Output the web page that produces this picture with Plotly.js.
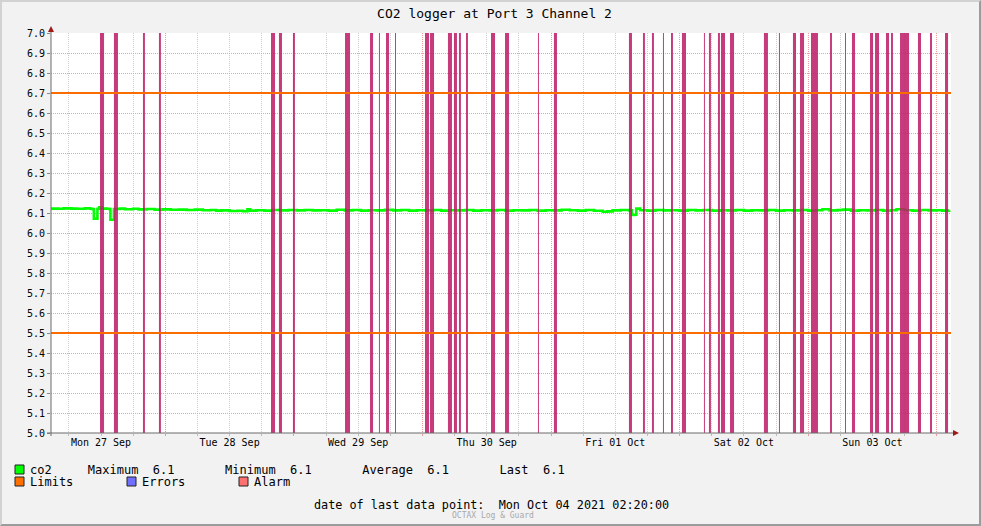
<!DOCTYPE html>
<html>
<head>
<meta charset="utf-8">
<script src="https://cdn.plot.ly/plotly-3.0.1.min.js"></script>
<style>
  html, body { margin: 0; padding: 0; background: #f2f2f2; }
  #wrap { position: relative; width: 981px; height: 526px; }
  #chart { width: 981px; height: 526px; }
  #frame { position: absolute; left: 0; top: 0; width: 981px; height: 526px; box-sizing: border-box;
           border-top: 2px solid #d2d2d2; border-left: 2px solid #d2d2d2;
           border-right: 2px solid #9c9c9c; border-bottom: 2px solid #9c9c9c; pointer-events: none; }
</style>
</head>
<body>
<div id="wrap"><div id="chart"></div><div id="frame"></div></div>
<script>
// ---------------- data ----------------
const titleText = "CO2 logger at Port 3 Channel 2";
const xRange = ["2021-09-27 02:40", "2021-10-04 02:40"];
const yRange = [5.0, 7.0];
const limits = [5.5, 6.7];

const co2Time = [
  "2021-09-27 02:40","2021-09-27 04:00","2021-09-27 05:00","2021-09-27 06:30","2021-09-27 07:30","2021-09-27 09:00",
  "2021-09-27 10:00","2021-09-27 10:30","2021-09-27 10:40","2021-09-27 11:10","2021-09-27 11:20","2021-09-27 11:40",
  "2021-09-27 12:10","2021-09-27 13:00","2021-09-27 13:35","2021-09-27 13:45","2021-09-27 14:15","2021-09-27 14:25",
  "2021-09-27 15:30","2021-09-27 16:30","2021-09-27 18:00","2021-09-27 19:00","2021-09-27 20:30","2021-09-27 22:00",
  "2021-09-27 23:30","2021-09-28 01:00","2021-09-28 02:30","2021-09-28 04:00","2021-09-28 05:30","2021-09-28 07:00",
  "2021-09-28 08:30","2021-09-28 09:30","2021-09-28 10:30","2021-09-28 12:00","2021-09-28 13:30","2021-09-28 14:30",
  "2021-09-28 15:20","2021-09-28 15:50","2021-09-28 17:00","2021-09-28 18:30","2021-09-28 20:00","2021-09-28 21:30",
  "2021-09-28 23:00","2021-09-29 00:30","2021-09-29 02:00","2021-09-29 03:30","2021-09-29 05:00","2021-09-29 06:30",
  "2021-09-29 08:00","2021-09-29 09:30","2021-09-29 11:00","2021-09-29 12:30","2021-09-29 14:00","2021-09-29 15:30",
  "2021-09-29 17:00","2021-09-29 18:30","2021-09-29 20:00","2021-09-29 21:30","2021-09-29 23:00","2021-09-30 00:30",
  "2021-09-30 02:00","2021-09-30 03:30","2021-09-30 05:00","2021-09-30 06:30","2021-09-30 08:00","2021-09-30 09:30",
  "2021-09-30 11:00","2021-09-30 12:30","2021-09-30 14:00","2021-09-30 15:30","2021-09-30 17:00","2021-09-30 18:30",
  "2021-09-30 20:00","2021-09-30 21:30","2021-09-30 23:00","2021-10-01 00:30","2021-10-01 02:00","2021-10-01 03:30",
  "2021-10-01 05:00","2021-10-01 06:30","2021-10-01 08:00","2021-10-01 09:40","2021-10-01 10:30","2021-10-01 11:30",
  "2021-10-01 13:00","2021-10-01 14:40","2021-10-01 15:05","2021-10-01 15:35","2021-10-01 15:55","2021-10-01 16:40",
  "2021-10-01 18:00","2021-10-01 19:30","2021-10-01 21:00","2021-10-01 22:30","2021-10-02 00:00","2021-10-02 01:30",
  "2021-10-02 03:00","2021-10-02 04:30","2021-10-02 06:00","2021-10-02 07:30","2021-10-02 09:00","2021-10-02 10:30",
  "2021-10-02 12:00","2021-10-02 13:30","2021-10-02 15:00","2021-10-02 16:30","2021-10-02 18:00","2021-10-02 19:30",
  "2021-10-02 21:00","2021-10-02 22:30","2021-10-03 00:00","2021-10-03 01:30","2021-10-03 02:40","2021-10-03 04:00",
  "2021-10-03 05:30","2021-10-03 06:30","2021-10-03 08:00","2021-10-03 09:30","2021-10-03 11:00","2021-10-03 12:30",
  "2021-10-03 14:00","2021-10-03 15:30","2021-10-03 16:30","2021-10-03 18:00","2021-10-03 19:30","2021-10-03 21:00",
  "2021-10-03 22:30","2021-10-04 00:00","2021-10-04 01:00","2021-10-04 02:20"
];
const co2Value = [
  6.122,6.121,6.123,6.122,6.121,6.123,
  6.121,6.119,6.072,6.072,6.121,6.128,
  6.122,6.121,6.120,6.066,6.066,6.120,
  6.122,6.119,6.121,6.118,6.120,6.117,
  6.118,6.116,6.117,6.115,6.117,6.114,
  6.115,6.112,6.113,6.110,6.111,6.109,
  6.118,6.112,6.114,6.112,6.115,6.113,
  6.115,6.113,6.115,6.113,6.114,6.112,
  6.116,6.113,6.115,6.112,6.114,6.113,
  6.116,6.113,6.115,6.112,6.114,6.113,
  6.115,6.112,6.114,6.113,6.115,6.112,
  6.114,6.113,6.115,6.112,6.114,6.113,
  6.115,6.112,6.114,6.113,6.116,6.114,
  6.112,6.115,6.111,6.106,6.108,6.113,
  6.115,6.113,6.090,6.091,6.122,6.114,
  6.112,6.115,6.113,6.114,6.112,6.115,
  6.113,6.115,6.112,6.114,6.113,6.115,
  6.112,6.114,6.113,6.115,6.112,6.114,
  6.113,6.115,6.112,6.114,6.119,6.113,
  6.115,6.117,6.112,6.114,6.113,6.115,
  6.112,6.114,6.119,6.114,6.112,6.115,
  6.113,6.114,6.112,6.113
];

// alarm / error periods (start time, length in minutes)
const alarmStart = [
  "2021-09-27 11:49","2021-09-27 14:25","2021-09-27 19:50","2021-09-27 22:49",
  "2021-09-28 19:44","2021-09-28 21:13","2021-09-28 23:50",
  "2021-09-29 09:33","2021-09-29 14:13","2021-09-29 15:53","2021-09-29 17:12","2021-09-29 18:53",
  "2021-09-30 00:29","2021-09-30 01:25","2021-09-30 04:46","2021-09-30 05:53","2021-09-30 06:49","2021-09-30 08:08",
  "2021-09-30 12:48","2021-09-30 15:25","2021-09-30 21:34",
  "2021-10-01 00:33","2021-10-01 14:33","2021-10-01 17:10","2021-10-01 18:51","2021-10-01 20:54","2021-10-01 22:24",
  "2021-10-02 00:27","2021-10-02 04:33","2021-10-02 05:29","2021-10-02 07:10","2021-10-02 07:44","2021-10-02 09:25",
  "2021-10-02 15:45","2021-10-02 18:33","2021-10-02 21:10","2021-10-02 22:29",
  "2021-10-03 00:32","2021-10-03 04:05","2021-10-03 06:53","2021-10-03 08:11","2021-10-03 11:33","2021-10-03 12:29",
  "2021-10-03 14:32","2021-10-03 15:28","2021-10-03 17:09","2021-10-03 20:30","2021-10-03 22:45",
  "2021-10-04 01:33"
];
const alarmMinutes = [
  45,45,22,22,
  45,34,22,
  56,34,11,34,11,
  45,45,45,34,22,22,
  45,45,11,
  34,34,22,22,11,22,
  45,11,22,22,45,45,
  45,11,34,45,
  78,22,11,34,34,45,
  34,22,101,34,22,
  34
];

const legendRow1 = "co2\u00a0\u00a0\u00a0\u00a0\u00a0Maximum\u00a0\u00a06.1\u00a0\u00a0\u00a0\u00a0\u00a0\u00a0\u00a0Minimum\u00a0\u00a06.1\u00a0\u00a0\u00a0\u00a0\u00a0\u00a0\u00a0Average\u00a0\u00a06.1\u00a0\u00a0\u00a0\u00a0\u00a0\u00a0\u00a0Last\u00a0\u00a06.1";
const legendItems = ["Limits", "Errors", "Alarm"];
const footerText = "date of last data point:\u00a0\u00a0Mon Oct 04 2021 02:20:00";
const creditText = "OCTAX Log &amp; Guard";

// ---------------- build ----------------
const MONO = "DejaVu Sans Mono";
const L = 51, T = 33, PW = 900, PH = 400;
const px = x => (x - L) / PW;
const py = y => (T + PH - y) / PH;
const toMs = s => Date.parse(s.replace(" ", "T") + ":00Z");

const bx = [], by = [];
alarmStart.forEach((s, i) => {
  const a = toMs(s), b = a + alarmMinutes[i] * 60000;
  bx.push(a, a, b, b, a, null);
  by.push(yRange[0], yRange[1], yRange[1], yRange[0], yRange[0], null);
});

const traces = [
  { type: "scatter", mode: "lines", x: co2Time, y: co2Value,
    line: { color: "#00ff00", width: 2.6, shape: "hv" }, hoverinfo: "skip" },
  { type: "scatter", mode: "lines", x: bx, y: by, fill: "toself",
    fillcolor: "rgba(188,30,104,0.87)", line: { width: 0, color: "rgba(0,0,0,0)" },
    connectgaps: false, hoverinfo: "skip" }
];

const shapes = [];
limits.forEach(v => shapes.push({ type: "line", xref: "paper", yref: "y", x0: 0, x1: 1, y0: v, y1: v,
  line: { color: "#f96c00", width: 2 }, layer: "above" }));
// axis lines & arrows
shapes.push({ type: "line", xref: "paper", yref: "paper", x0: px(47), x1: px(954), y0: 0, y1: 0,
  line: { color: "#6a6a6a", width: 1 }, layer: "above" });
shapes.push({ type: "line", xref: "paper", yref: "paper", x0: 0, x1: 0, y0: py(436), y1: py(29),
  line: { color: "#6a6a6a", width: 1 }, layer: "above" });
shapes.push({ type: "path", xref: "paper", yref: "paper",
  path: `M ${px(953)} ${py(430)} L ${px(959)} ${py(433)} L ${px(953)} ${py(436)} Z`,
  fillcolor: "#a01818", line: { width: 0 }, layer: "above" });
shapes.push({ type: "path", xref: "paper", yref: "paper",
  path: `M ${px(48)} ${py(32)} L ${px(51)} ${py(26)} L ${px(54)} ${py(32)} Z`,
  fillcolor: "#a01818", line: { width: 0 }, layer: "above" });
// legend swatches
const sw = [[15, 465, "#00ff00"], [15, 477, "#ff7000"], [127, 477, "#7070ff"], [239, 477, "#ff7070"]];
sw.forEach(s => shapes.push({ type: "rect", xref: "paper", yref: "paper",
  x0: px(s[0]), x1: px(s[0] + 9), y0: py(s[1] + 9), y1: py(s[1]),
  fillcolor: s[2], line: { color: "#222", width: 1 } }));

const ann = [];
const A = (text, x, y, size, color, anchor) => ann.push({ text, xref: "paper", yref: "paper",
  x: px(x), y: py(y), xanchor: anchor || "left", yanchor: "middle", showarrow: false, borderpad: 0,
  font: { family: MONO, size, color } });
A(legendRow1, 29, 469.5, 12, "#000");
A(legendItems[0], 29, 482, 12, "#000");
A(legendItems[1], 141, 482, 12, "#000");
A(legendItems[2], 253, 482, 12, "#000");
A(footerText, 491.5, 505.5, 11.8, "#000", "center");
A(creditText, 493, 515.5, 8, "#a8a8a8", "center");

const layout = {
  width: 981, height: 526,
  margin: { l: L, r: 981 - L - PW, t: T, b: 526 - T - PH, pad: 0 },
  paper_bgcolor: "#f2f2f2", plot_bgcolor: "#ffffff",
  showlegend: false,
  title: { text: titleText, font: { family: MONO, size: 13, color: "#000" },
           xref: "container", yref: "container", x: 494.5 / 981, y: 1 - 13 / 526,
           xanchor: "center", yanchor: "middle" },
  xaxis: {
    type: "date", range: xRange, fixedrange: true,
    tick0: "2021-09-27", dtick: 86400000, tickformat: "%a %d %b", ticklabelmode: "period",
    showgrid: true, gridcolor: "#ee9a9a", griddash: "1px,1px", gridwidth: 1,
    ticks: "outside", ticklen: 2, tickcolor: "#ee9a9a", ticklabelstandoff: -2,
    minor: { dtick: 21600000, tick0: "2021-09-27", showgrid: true, gridcolor: "#cccccc",
             griddash: "1px,1px", gridwidth: 1, ticks: "outside", ticklen: 2, tickcolor: "#bbbbbb" },
    showline: false, zeroline: false,
    tickfont: { family: MONO, size: 10, color: "#000" }
  },
  yaxis: {
    range: yRange, fixedrange: true, tick0: 5, dtick: 0.1, tickformat: ".1f",
    showgrid: true, gridcolor: "#e3a6a6", griddash: "1px,1px", gridwidth: 1,
    ticks: "outside", ticklen: 3, tickcolor: "#888",
    showline: false, zeroline: false,
    tickfont: { family: MONO, size: 10, color: "#000" }
  },
  shapes, annotations: ann
};

Plotly.newPlot("chart", traces, layout, { staticPlot: true, displayModeBar: false });
</script>
</body>
</html>
